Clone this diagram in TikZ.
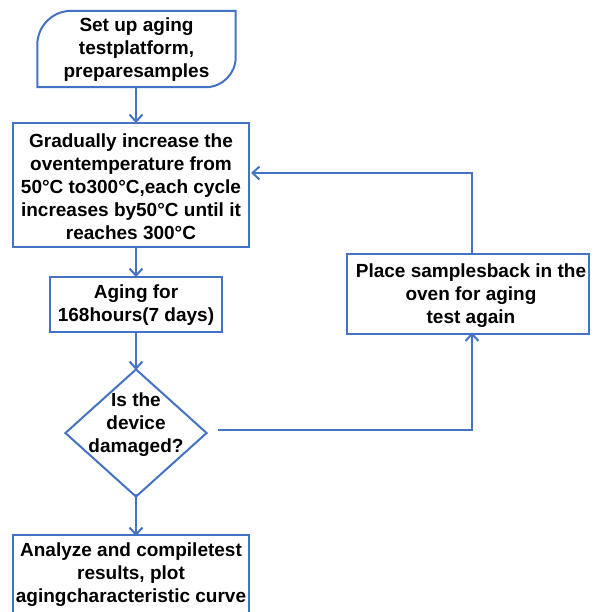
\documentclass[tikz,border=0pt]{standalone}
\usepackage{fontspec}
\setmainfont{Liberation Sans}
\usetikzlibrary{shapes.geometric,arrows.meta}
\definecolor{flowblue}{HTML}{4472C4}
\tikzset{
  txt/.style={font=\fontsize{19}{23}\selectfont\bfseries, align=center, inner sep=0pt},
  box/.style={draw=flowblue, line width=2pt, fill=white},
  conn/.style={draw=flowblue, line width=2pt, -{Straight Barb[length=7pt,width=13pt,line width=2pt]}},
}
\begin{document}
\begin{tikzpicture}[x=1pt,y=-1pt]
\useasboundingbox (0,0) rectangle (600,612);
\clip (0,0) rectangle (600,612);
\fill[white] (0,0) rectangle (600,612);
% start shape
\node[minimum width=198pt, minimum height=76pt, inner sep=0pt] (start) at (136.5,49) {};
\draw[box] ([yshift=-34pt]start.north west) arc[start angle=180, end angle=90, radius=34pt]
  -- (start.north east) -- ([yshift=30pt]start.south east)
  arc[start angle=0, end angle=-90, radius=30pt] -- (start.south west) -- cycle;
\node[txt] at (136.5,50) {Set up aging\\testplatform,\\preparesamples};
% box 2
\node[box, minimum width=236pt, minimum height=124pt, inner sep=0pt] (heat) at (131,185) {};
\node[txt] at (131,187) {Gradually increase the\\oventemperature from\\50°C to300°C,each cycle\\increases by50°C until it\\reaches 300°C};
% aging
\node[box, minimum width=172pt, minimum height=55pt, inner sep=0pt] (aging) at (136,304.5) {};
\node[txt] at (136,305) {Aging for\\168hours(7 days)};
% decision
\node[draw=flowblue, line width=2pt, fill=white, shape=diamond, minimum width=142pt, minimum height=128pt, inner sep=0pt, aspect=1.11] (dec) at (136,433) {};
\node[txt] at (136,425) {Is the\\device\\damaged?};
% place back
\node[box, minimum width=242pt, minimum height=80pt, inner sep=0pt] (back) at (468,293.5) {};
\node[txt] at (471,296) {Place samplesback in the\\oven for aging\\test again};
% final
\node[box, minimum width=236pt, minimum height=100pt, inner sep=0pt] (final) at (131,585) {};
\node[txt, anchor=north] at (131,543) {Analyze and compiletest\\results, plot\\agingcharacteristic curve};
% connectors
\draw[conn] (start.south -| 136,0) -- ([yshift=-1pt]heat.north -| 136,0);
\draw[conn] (heat.south -| 136,0) -- ([yshift=-1pt]aging.north);
\draw[conn] (aging.south) -- ([yshift=-2pt]dec.north);
\draw[conn] ([yshift=4pt]dec.south) -- ([yshift=-2pt]final.north -| 136,0);
\coordinate (r1) at (472,430);
\draw[conn] ([xshift=10pt]dec.east |- r1) -- (r1) -- ([yshift=2pt]back.south -| r1);
\coordinate (r2) at (472,173);
\draw[conn] (back.north -| r2) -- (r2) -- ([xshift=1pt]heat.east |- r2);
\end{tikzpicture}
\end{document}
